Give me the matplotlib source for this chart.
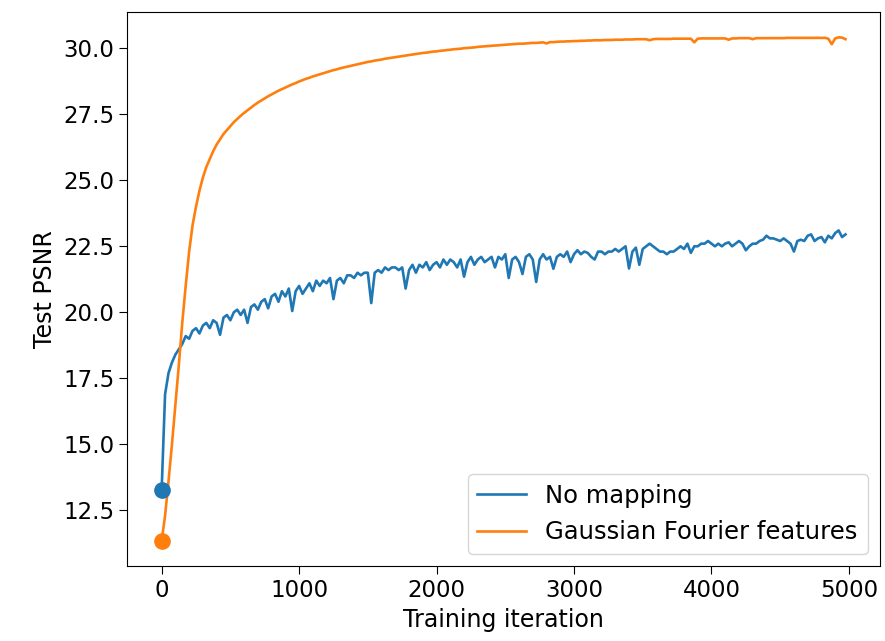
import numpy as np
import matplotlib.pyplot as plt

# iteraciones de evaluación (cada 25 pasos)
iters = np.arange(0, 5000, 25)

# PSNR sin mapeo
psnr_no_mapping = [
    13.26, 16.9, 17.7, 18.1, 18.4, 18.6, 18.8, 19.1, 19.0, 19.3,
    19.4, 19.2, 19.5, 19.6, 19.4, 19.7, 19.6, 19.15, 19.8, 19.9,
    19.7, 20.0, 20.1, 19.9, 20.1, 19.6, 20.2, 20.3, 20.1, 20.4,
    20.5, 20.15, 20.6, 20.7, 20.4, 20.8, 20.6, 20.9, 20.05, 20.8,
    21.0, 20.7, 20.9, 21.1, 20.8, 21.2, 21.0, 21.2, 21.1, 21.3,
    20.5, 21.2, 21.3, 21.1, 21.4, 21.4, 21.3, 21.5, 21.4, 21.5,
    21.5, 20.35, 21.5, 21.6, 21.5, 21.7, 21.6, 21.7, 21.7, 21.6,
    21.7, 20.9, 21.6, 21.8, 21.5, 21.8, 21.7, 21.9, 21.6, 21.8,
    21.9, 21.7, 22.0, 21.8, 22.0, 21.9, 21.7, 22.0, 21.35, 21.9,
    22.1, 21.8, 22.0, 22.1, 21.9, 22.0, 22.1, 21.7, 22.1, 22.0,
    22.2, 21.3, 22.0, 22.1, 21.9, 21.45, 22.1, 22.2, 22.0, 21.15,
    22.0, 22.2, 22.0, 22.1, 21.65, 22.1, 22.2, 22.1, 22.3, 21.9,
    22.2, 22.35, 22.2, 22.3, 22.25, 22.1, 22.0, 22.3, 22.3, 22.2,
    22.3, 22.3, 22.4, 22.3, 22.4, 22.5, 21.66, 22.3, 22.45, 21.8,
    22.4, 22.5, 22.6, 22.5, 22.4, 22.3, 22.3, 22.2, 22.3, 22.3,
    22.4, 22.5, 22.4, 22.6, 22.25, 22.5, 22.5, 22.6, 22.6, 22.7,
    22.6, 22.5, 22.6, 22.5, 22.6, 22.65, 22.5, 22.6, 22.7, 22.6,
    22.35, 22.5, 22.6, 22.6, 22.7, 22.75, 22.9, 22.8, 22.8, 22.75,
    22.7, 22.8, 22.7, 22.6, 22.3, 22.7, 22.75, 22.7, 22.9, 22.95,
    22.7, 22.8, 22.85, 22.65, 22.9, 22.8, 23.0, 23.1, 22.85, 22.95,
]

# PSNR con Gaussian Fourier features
psnr_fourier = [
    11.35, 12.3, 13.6, 15.0, 16.5, 18.0, 19.6, 21.0, 22.3, 23.3,
    24.0, 24.6, 25.1, 25.5, 25.8, 26.1, 26.35, 26.55, 26.75, 26.9,
    27.05, 27.2, 27.32, 27.44, 27.55, 27.65, 27.75, 27.85, 27.94, 28.02,
    28.1, 28.18, 28.25, 28.32, 28.39, 28.45, 28.51, 28.57, 28.63, 28.68,
    28.74, 28.79, 28.84, 28.88, 28.93, 28.97, 29.01, 29.05, 29.09, 29.13,
    29.17, 29.2, 29.24, 29.27, 29.3, 29.33, 29.36, 29.39, 29.42, 29.45,
    29.48, 29.5, 29.53, 29.55, 29.57, 29.6, 29.62, 29.64, 29.66, 29.68,
    29.7, 29.72, 29.74, 29.76, 29.78, 29.8, 29.82, 29.83, 29.85, 29.87,
    29.88, 29.9, 29.91, 29.93, 29.94, 29.96, 29.97, 29.98, 30.0, 30.01,
    30.02, 30.03, 30.05, 30.06, 30.07, 30.08, 30.09, 30.1, 30.11, 30.12,
    30.13, 30.14, 30.15, 30.16, 30.17, 30.17, 30.18, 30.19, 30.2, 30.2,
    30.21, 30.22, 30.18, 30.23, 30.23, 30.24, 30.25, 30.25, 30.26, 30.26,
    30.27, 30.27, 30.28, 30.28, 30.29, 30.29, 30.3, 30.3, 30.3, 30.31,
    30.31, 30.31, 30.32, 30.32, 30.32, 30.33, 30.33, 30.33, 30.34, 30.34,
    30.34, 30.34, 30.3, 30.34, 30.35, 30.35, 30.35, 30.35, 30.35, 30.36,
    30.36, 30.36, 30.36, 30.36, 30.36, 30.22, 30.36, 30.37, 30.37, 30.37,
    30.37, 30.37, 30.37, 30.37, 30.37, 30.32, 30.37, 30.37, 30.38, 30.38,
    30.38, 30.38, 30.34, 30.38, 30.38, 30.38, 30.38, 30.38, 30.38, 30.38,
    30.38, 30.38, 30.39, 30.39, 30.39, 30.39, 30.39, 30.39, 30.39, 30.39,
    30.39, 30.39, 30.39, 30.39, 30.36, 30.15, 30.37, 30.41, 30.4, 30.34,
]

fig, ax = plt.subplots(figsize=(8.85, 6.41), dpi=100)
fig.subplots_adjust(left=0.144, right=0.994, top=0.981, bottom=0.117)

ax.plot(iters, psnr_no_mapping, color='C0', lw=1.9, label='No mapping')
ax.plot(iters, psnr_fourier, color='C1', lw=1.9, label='Gaussian Fourier features')
# punto inicial
ax.plot(iters[0], psnr_no_mapping[0], 'o', color='C0', ms=11)
ax.plot(iters[0], psnr_fourier[0], 'o', color='C1', ms=11)

ax.set_xticks([0, 1000, 2000, 3000, 4000, 5000])
ax.set_yticks([12.5, 15.0, 17.5, 20.0, 22.5, 25.0, 27.5, 30.0])
ax.tick_params(labelsize=16.5, length=6)
ax.set_xlabel('Training iteration', fontsize=17)
ax.set_ylabel('Test PSNR', fontsize=17)
ax.legend(loc='lower right', fontsize=17.5)

plt.savefig('out.png')
